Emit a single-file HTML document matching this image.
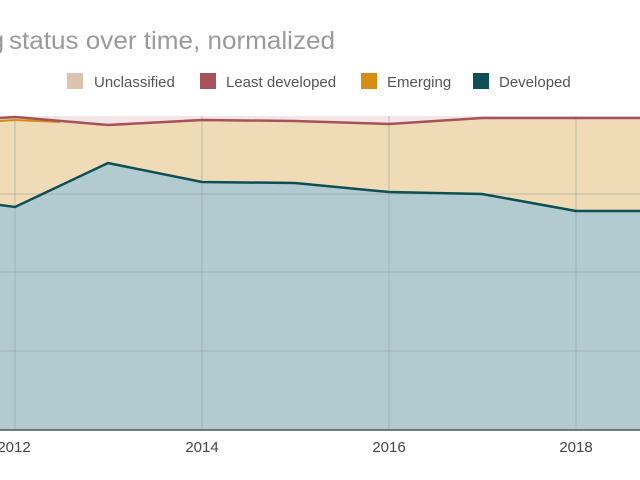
<!DOCTYPE html>
<html><head><meta charset="utf-8"><style>
html,body{margin:0;padding:0;background:#fff;width:640px;height:480px;overflow:hidden}
svg{display:block;font-family:"Liberation Sans",sans-serif}
</style></head><body>
<svg width="640" height="480" viewBox="0 0 640 480">
<text x="4" y="49" text-anchor="end" font-size="25" fill="#9a9a9a">g</text>
<text x="9" y="49" font-size="25" fill="#9a9a9a" textLength="326" lengthAdjust="spacingAndGlyphs">status over time, normalized</text>
<g font-size="15" fill="#555">
<rect x="67" y="73" width="16" height="16" fill="#dcc3b0"/><text x="94" y="87">Unclassified</text>
<rect x="200" y="73" width="16" height="16" fill="#a5525a"/><text x="226" y="87">Least developed</text>
<rect x="361" y="73" width="16" height="16" fill="#d48e14"/><text x="387" y="87">Emerging</text>
<rect x="473" y="73" width="16" height="16" fill="#0d4f55"/><text x="499" y="87">Developed</text>
</g>
<rect x="0" y="116" width="640" height="314" fill="#f4e6e6"/>
<polygon points="0,118 15,117 108,125 202,120 295,121 389,124 482,118 576,118 640,118 640,430 0,430" fill="#efdbb5"/>
<polygon points="0,205 15,207 108,163 202,182 295,183 389,192 482,194 576,211 640,211 640,430 0,430" fill="#b2cbd0"/>
<g stroke="#8a9a9c" stroke-opacity="0.5" stroke-width="1">
<line x1="0" y1="194" x2="640" y2="194"/><line x1="0" y1="272" x2="640" y2="272"/><line x1="0" y1="351" x2="640" y2="351"/>
<line x1="15" y1="116" x2="15" y2="430"/><line x1="202" y1="116" x2="202" y2="430"/><line x1="389" y1="116" x2="389" y2="430"/><line x1="576" y1="116" x2="576" y2="430"/>
</g>
<polyline points="0,121 15,120 60,122" fill="none" stroke="#d48e14" stroke-width="2"/>
<polyline points="0,118 15,117 108,125 202,120 295,121 389,124 482,118 576,118 640,118" fill="none" stroke="#a5525a" stroke-width="2.5"/>
<polyline points="0,205 15,207 108,163 202,182 295,183 389,192 482,194 576,211 640,211" fill="none" stroke="#0d4f55" stroke-width="2.5"/>
<line x1="0" y1="430" x2="640" y2="430" stroke="#4a5a5a" stroke-width="1.5"/>
<g font-size="15" fill="#444" text-anchor="middle">
<text x="14" y="452">2012</text><text x="202" y="452">2014</text><text x="389" y="452">2016</text><text x="576" y="452">2018</text>
</g>
</svg>
</body></html>
